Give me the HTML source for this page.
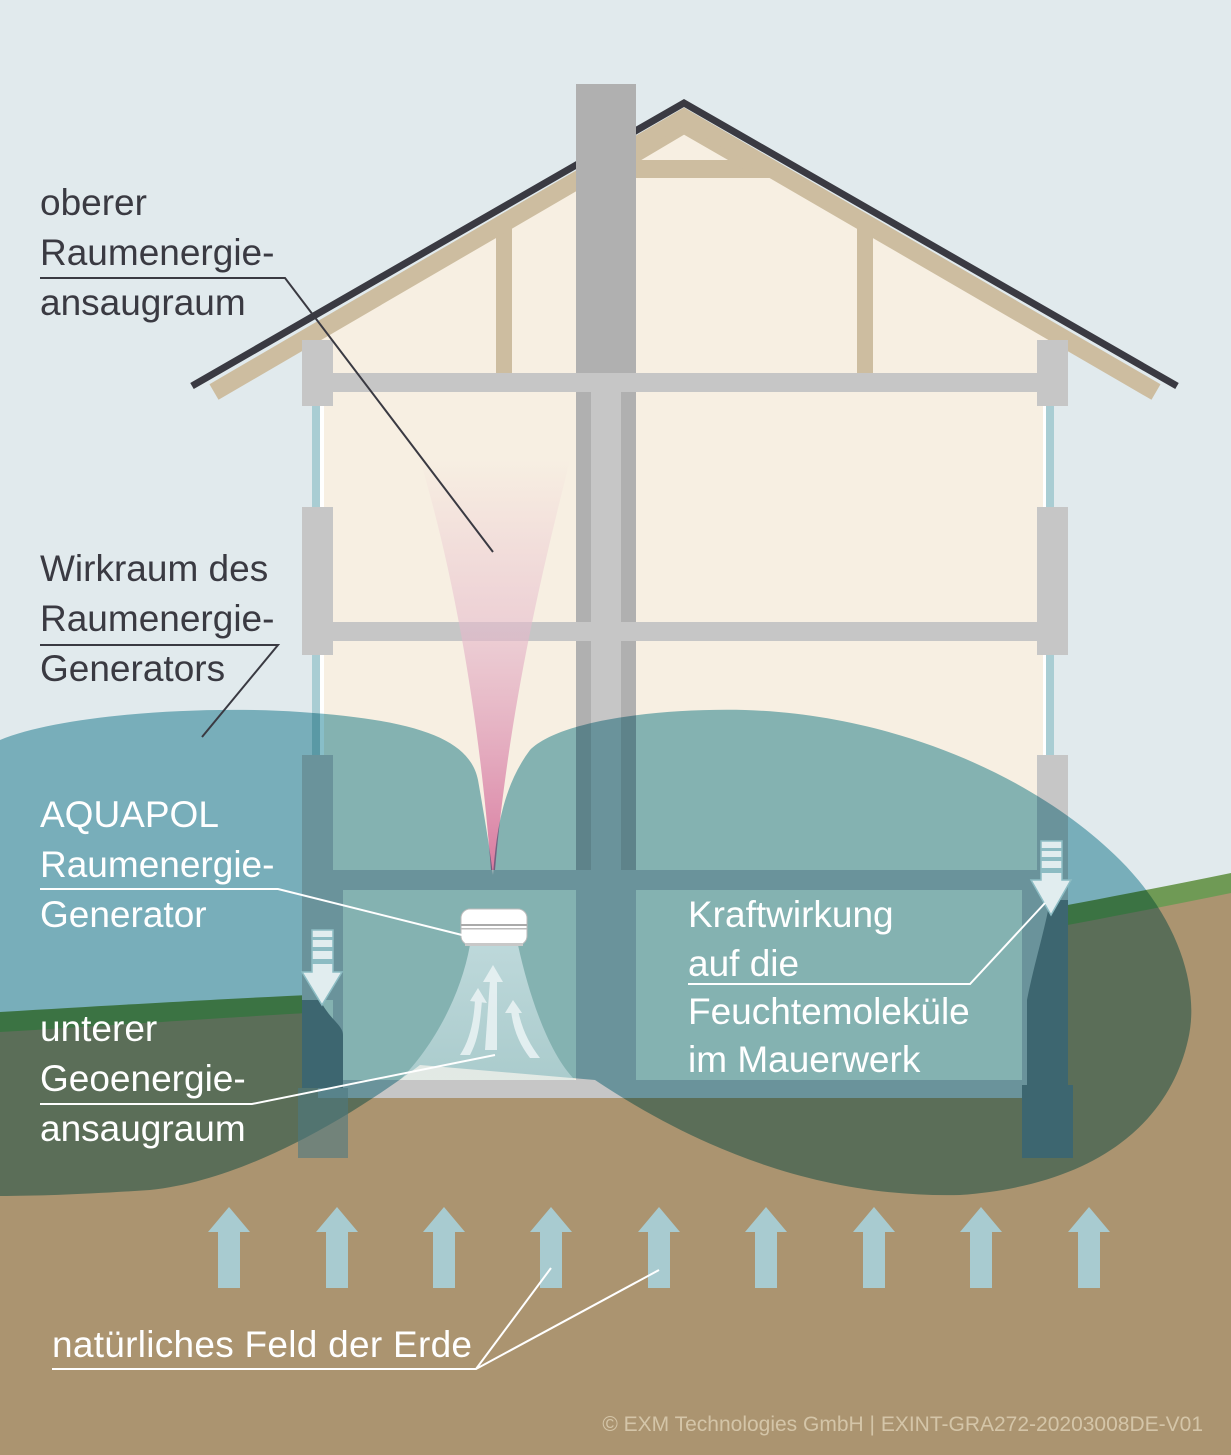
<!DOCTYPE html>
<html><head><meta charset="utf-8"><style>
html,body{margin:0;padding:0;background:#e1eaed}
svg{display:block}
text{font-family:"Liberation Sans",Arial,sans-serif}
</style></head><body>
<svg width="1231" height="1455" viewBox="0 0 1231 1455" xmlns="http://www.w3.org/2000/svg">
<defs>
<linearGradient id="pink" x1="0" y1="0" x2="0" y2="1">
<stop offset="0" stop-color="#e8b6c8" stop-opacity="0"/>
<stop offset="0.4" stop-color="#e6bccd" stop-opacity="0.6"/>
<stop offset="1" stop-color="#d97ba0" stop-opacity="1"/>
</linearGradient>
<linearGradient id="spray" x1="0" y1="0" x2="0" y2="1">
<stop offset="0" stop-color="#cfe4e7" stop-opacity="0.9"/>
<stop offset="1" stop-color="#cfe4e7" stop-opacity="0.6"/>
</linearGradient>
</defs>
<rect width="1231" height="1455" fill="#e1eaed"/>
<path d="M0,1012 C200,1000 300,995 420,990 C700,975 1000,920 1231,873 L1231,1455 L0,1455Z" fill="#6f9a55"/>
<path d="M0,1032 C200,1020 300,1012 420,1008 C700,995 1000,940 1231,893 L1231,1455 L0,1455Z" fill="#ab9470"/>
<path d="M318,340 L684,128 L1052,340 L1052,1080 L318,1080Z" fill="#f7efe2"/>
<path d="M302,350 L318,340 L318,392 L302,392Z M1052,340 L1068,350 L1068,392 L1052,392Z" fill="#f7efe2"/>
<g fill="#cdbda0">
<rect x="496" y="220" width="16" height="155"/>
<rect x="857" y="220" width="16" height="155"/>
<rect x="600" y="160" width="170" height="18"/>
</g>
<path d="M214,392 L684,118 L1156,392" stroke="#cdbda0" stroke-width="18" fill="none"/>
<path d="M620,168 L684,130 L750,168" stroke="#cdbda0" stroke-width="8" fill="none"/>
<path d="M192,386 L684,103 L1177,386" stroke="#3a3a42" stroke-width="7" fill="none"/>
<rect x="576" y="84" width="60" height="996" fill="#b0b0b0"/>
<rect x="591" y="392" width="30" height="688" fill="#c6c6c6"/>
<g fill="#a9cdd3"><rect x="312" y="406" width="8" height="101"/><rect x="312" y="655" width="8" height="100"/><rect x="1046" y="406" width="8" height="101"/><rect x="1046" y="655" width="8" height="100"/></g>
<g fill="#fff"><rect x="320" y="406" width="4" height="101"/><rect x="320" y="655" width="4" height="100"/><rect x="1043" y="406" width="3" height="101"/><rect x="1043" y="655" width="3" height="100"/></g>
<g fill="#c6c6c6">
<rect x="302" y="340" width="31" height="66"/><rect x="302" y="507" width="31" height="148"/><rect x="302" y="755" width="31" height="245"/>
<rect x="1037" y="340" width="31" height="66"/><rect x="1037" y="507" width="31" height="148"/><rect x="1037" y="755" width="31" height="245"/>
<rect x="302" y="373" width="766" height="19"/>
<rect x="302" y="622" width="766" height="19"/>
<rect x="302" y="870" width="766" height="20"/>
<rect x="318" y="1080" width="734" height="18"/>
<rect x="576" y="890" width="60" height="190"/>
</g>
<rect x="1022" y="890" width="15" height="190" fill="#c6c6c6"/>
<rect x="333" y="890" width="10" height="190" fill="#c6c6c6"/>
<path d="M420,460 L570,460 C545,560 510,700 495,870 L491,870 C478,700 450,560 420,460Z" fill="url(#pink)"/>
<path style="mix-blend-mode:multiply" fill="#88bec8" d="M0,740 C60,715 200,705 300,712 C420,720 470,740 478,780 C485,820 490,850 493,875 C496,840 500,790 530,750 C560,720 660,708 745,710 C900,715 1040,780 1120,860 C1180,920 1200,990 1188,1040 C1170,1120 1100,1185 960,1195 C820,1198 700,1150 595,1080 L420,1065 C360,1110 250,1180 150,1190 C90,1194 40,1196 0,1196 Z"/>
<g fill="#3d6670">
<path d="M302,1000 L320,1000 C330,1020 343,1025 343,1035 L343,1088 L302,1088Z"/>
<path d="M1050,900 L1068,900 L1068,1085 L1073,1085 L1073,1158 L1022,1158 L1022,1085 L1027,1085 L1027,1000 C1035,960 1045,930 1050,900Z"/>
</g>
<rect x="298" y="1088" width="50" height="70" fill="#4d7880" opacity="0.6"/>
<path d="M470,945 L518,945 C530,1000 550,1055 575,1080 L400,1080 C430,1050 460,1000 470,945Z" fill="url(#spray)" opacity="0.85"/>
<g fill="#e8f2f3" opacity="0.9">
<path d="M490,980 L497,980 L497,1050 L485,1050Z"/><polygon points="493,965 503,982 483,982"/>
<path d="M475,1000 L482,1000 C480,1025 478,1040 470,1055 L460,1055 C470,1040 474,1020 475,1000Z"/><polygon points="478,988 487,1003 470,1001"/>
<path d="M511,1010 L518,1010 C522,1030 530,1045 540,1058 L530,1058 C520,1045 513,1030 511,1010Z"/><polygon points="513,1000 522,1013 505,1013"/>
</g>
<rect x="461" y="909" width="66" height="36" rx="9" fill="#ffffff" stroke="#bbbbbb" stroke-width="1"/>
<rect x="461" y="924" width="66" height="2" fill="#aaa"/>
<rect x="461" y="928" width="66" height="1.5" fill="#bbb"/>
<rect x="465" y="943" width="58" height="3" fill="#c8c8c8"/>
<g fill="#e1edef" stroke="#8cbcc3" stroke-width="1.5">
<path d="M312,930 L333,930 L333,972 L342,972 L322,1005 L302,972 L312,972Z"/>
<path d="M1041,841 L1062,841 L1062,880 L1071,880 L1051,915 L1031,880 L1041,880Z"/>
</g>
<g fill="#8cbcc3"><rect x="312" y="937" width="21" height="3"/><rect x="312" y="947" width="21" height="4"/><rect x="312" y="959" width="21" height="5"/>
<rect x="1041" y="848" width="21" height="3"/><rect x="1041" y="857" width="21" height="4"/><rect x="1041" y="868" width="21" height="5"/></g>
<g fill="#a8cbd0">
<path id="ea" d="M218,1288 L218,1232 L208,1232 L229,1207 L250,1232 L240,1232 L240,1288Z"/>
<use href="#ea" x="108"/><use href="#ea" x="215"/><use href="#ea" x="322"/><use href="#ea" x="430"/><use href="#ea" x="537"/><use href="#ea" x="645"/><use href="#ea" x="752"/><use href="#ea" x="860"/>
</g>
<g fill="none" stroke-width="2">
<path d="M40,278 L285,278 L493,552" stroke="#3a3a42"/>
<path d="M40,645 L278,645 L202,737" stroke="#3a3a42"/>
<path d="M40,889 L278,889 L462,935" stroke="#fff"/>
<path d="M40,1104 L252,1104 L495,1055" stroke="#fff"/>
<path d="M688,984 L970,984 L1045,903" stroke="#fff"/>
<path d="M52,1369 L476,1369 L551,1268 M476,1369 L659,1270" stroke="#fff"/>
</g>
<g font-size="37" fill="#3a3a42">
<text x="40" y="215">oberer</text>
<text x="40" y="265">Raumenergie-</text>
<text x="40" y="315">ansaugraum</text>
<text x="40" y="581">Wirkraum des</text>
<text x="40" y="631">Raumenergie-</text>
<text x="40" y="681">Generators</text>
</g>
<g font-size="37" fill="#ffffff">
<text x="40" y="827">AQUAPOL</text>
<text x="40" y="877">Raumenergie-</text>
<text x="40" y="927">Generator</text>
<text x="40" y="1041">unterer</text>
<text x="40" y="1091">Geoenergie-</text>
<text x="40" y="1141">ansaugraum</text>
<text x="688" y="927">Kraftwirkung</text>
<text x="688" y="976">auf die</text>
<text x="688" y="1024">Feuchtemoleküle</text>
<text x="688" y="1072">im Mauerwerk</text>
<text x="52" y="1357" textLength="420">natürliches Feld der Erde</text>
</g>
<text x="1203" y="1431" font-size="21" fill="#d4c5a8" text-anchor="end">© EXM Technologies GmbH | EXINT-GRA272-20203008DE-V01</text>
</svg>
</body></html>
